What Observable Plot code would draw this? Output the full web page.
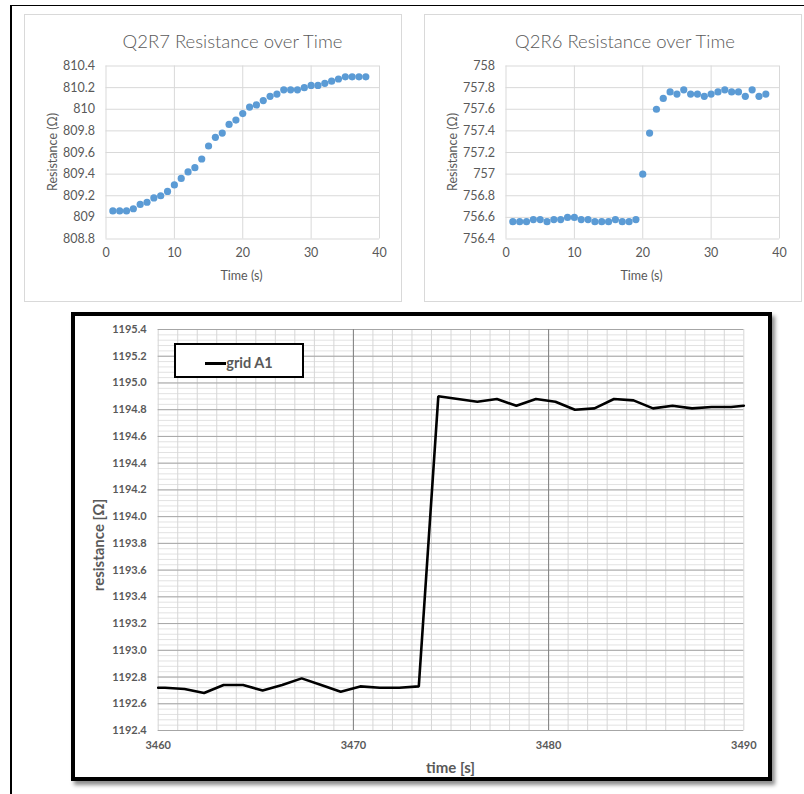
<!DOCTYPE html>
<html><head><meta charset="utf-8">
<script src="https://cdn.jsdelivr.net/npm/d3@7"></script>
<script src="https://cdn.jsdelivr.net/npm/@observablehq/plot@0.6"></script>
<style>
body{margin:0;background:#fff;}
#page{position:relative;width:804px;height:794px;overflow:hidden;background:#fff;font-family:Lato,"Open Sans",sans-serif;}
.abs{position:absolute;}
.lbl{position:absolute;white-space:nowrap;line-height:1;}
</style></head><body><div id="page"></div>
<script>
// ---------- data ----------
const timeS = [1,2,3,4,5,6,7,8,9,10,11,12,13,14,15,16,17,18,19,20,21,22,23,24,25,26,27,28,29,30,31,32,33,34,35,36,37,38];
const q2r7 = [809.06,809.06,809.06,809.08,809.12,809.14,809.18,809.2,809.24,809.3,
              809.36,809.42,809.46,809.54,809.66,809.74,809.78,809.86,809.9,809.96,
              810.02,810.04,810.08,810.12,810.14,810.18,810.18,810.18,810.2,810.22,
              810.22,810.24,810.26,810.28,810.3,810.3,810.3,810.3];
const q2r6 = [756.56,756.56,756.56,756.58,756.58,756.56,756.58,756.58,756.6,756.6,
              756.58,756.58,756.56,756.56,756.56,756.58,756.56,756.56,756.58,757.0,
              757.38,757.6,757.7,757.76,757.74,757.78,757.74,757.74,757.72,757.74,
              757.76,757.78,757.76,757.76,757.72,757.78,757.72,757.74];
const topXTicks = [0,10,20,30,40];
const q2r7YTicks = [808.8,809,809.2,809.4,809.6,809.8,810,810.2,810.4];
const q2r6YTicks = [756.4,756.6,756.8,757,757.2,757.4,757.6,757.8,758];

const gridTime = [3460,3460.35,3461.35,3462.35,3463.35,3464.35,3465.35,3466.35,3467.35,3468.35,3469.35,
                  3470.35,3471.35,3472.35,3473.35,3474.35,3475.35,3476.35,3477.35,3478.35,3479.35,
                  3480.35,3481.35,3482.35,3483.35,3484.35,3485.35,3486.35,3487.35,3488.35,3489.35,3490];
const gridA1 = [1192.72,1192.72,1192.71,1192.68,1192.74,1192.74,1192.70,1192.74,1192.79,1192.74,1192.69,
                1192.73,1192.72,1192.72,1192.73,1194.90,1194.88,1194.86,1194.88,1194.83,1194.88,
                1194.86,1194.80,1194.81,1194.88,1194.87,1194.81,1194.83,1194.81,1194.82,1194.82,1194.83];
const bottomXTicks = [3460,3470,3480,3490];
const bottomXMajorGrid = [3470,3480];
const bottomYTicks = [1192.4,1192.6,1192.8,1193.0,1193.2,1193.4,1193.6,1193.8,1194.0,1194.2,1194.4,1194.6,1194.8,1195.0,1195.2,1195.4];
const bottomXMinor = d3.range(3460, 3490.01, 1);
const bottomYMinor = d3.range(0, 76).map(i => 1192.4 + i * 0.04);

// ---------- page helpers ----------
const page = document.getElementById("page");
function box(css){ const d=document.createElement("div"); d.className="abs"; Object.assign(d.style,css); page.appendChild(d); return d; }
function label(txt, cx, cy, css, rot){
  const d=document.createElement("div"); d.className="lbl"; d.textContent=txt;
  Object.assign(d.style,{left:cx+"px",top:cy+"px",transform:"translate(-50%,-50%)"+(rot?" rotate("+rot+"deg)":"")},css);
  page.appendChild(d); return d;
}
function place(el, left, top){ el.style.position="absolute"; el.style.left=left+"px"; el.style.top=top+"px"; page.appendChild(el); }

// outer screenshot frame lines
box({left:"9.5px",top:"4.5px",width:"2px",height:"790px",background:"#000"});
box({left:"9.5px",top:"4.5px",width:"795px",height:"1.6px",background:"#000"});

// top panels
box({left:"24px",top:"13.5px",width:"378px",height:"288px",border:"1px solid #d9d9d9",boxSizing:"border-box"});
box({left:"423.5px",top:"13.5px",width:"378px",height:"288px",border:"1px solid #d9d9d9",boxSizing:"border-box"});

function excelScatter(vals, yDomain, yTicks){
  const data = timeS.map((t,i)=>({t, v: vals[i]}));
  return Plot.plot({
    width: 378, height: 288,
    marginLeft: 81.5, marginRight: 23, marginTop: 51.5, marginBottom: 63.5,
    style: {fontFamily: "Lato, sans-serif", fontSize: "12.5px", color: "#595959", background: "transparent", overflow: "visible"},
    x: {domain: [0,40], ticks: topXTicks, tickSize: 0, tickPadding: 9, label: null},
    y: {domain: yDomain, ticks: yTicks, tickSize: 0, tickPadding: 11, label: null, tickFormat: d => String(+d.toFixed(1))},
    marks: [
      Plot.ruleY(yTicks, {stroke: "#d9d9d9", strokeWidth: 1}),
      Plot.ruleX(topXTicks, {stroke: "#d9d9d9", strokeWidth: 1}),
      Plot.dot(data, {x: "t", y: "v", r: 3.6, fill: "#5b9bd5", stroke: "none"})
    ]
  });
}
place(excelScatter(q2r7, [808.8, 810.4], q2r7YTicks), 24, 14);
place(excelScatter(q2r6, [756.4, 758], q2r6YTicks), 423.5, 14);

const titleCss = {fontSize: "18.5px", color: "#595959", fontFamily: "Lato, sans-serif", fontWeight: "300"};
const axCss = {fontSize: "12.5px", color: "#595959", fontFamily: "Lato, sans-serif"};
label("Q2R7 Resistance over Time", 232.5, 41, titleCss);
label("Q2R6 Resistance over Time", 625, 41, titleCss);
label("Time (s)", 241.5, 276, axCss);
label("Time (s)", 641.5, 276, axCss);
label("Resistance (Ω)", 52.5, 151.5, axCss, -90);
label("Resistance (Ω)", 452.5, 151.5, axCss, -90);

// bottom framed chart
box({left:"71px",top:"311.5px",width:"701px",height:"469.5px",border:"4.5px solid #000",boxSizing:"border-box",boxShadow:"3px 4px 4px rgba(0,0,0,0.45)",background:"#fff"});

const gridData = gridTime.map((t,i)=>({t, v: gridA1[i]}));
const bottom = Plot.plot({
  width: 692, height: 461,
  marginLeft: 82.7, marginRight: 23.7, marginTop: 13, marginBottom: 47,
  style: {fontFamily: "Lato, sans-serif", fontSize: "11px", fontWeight: "bold", color: "#595959", background: "transparent", overflow: "visible"},
  x: {domain: [3460, 3490], ticks: bottomXTicks, tickSize: 0, tickPadding: 11, label: null, tickFormat: d => String(d)},
  y: {domain: [1192.4, 1195.4], ticks: bottomYTicks, tickSize: 0, tickPadding: 11.5, label: null, tickFormat: d => d.toFixed(1)},
  marks: [
    Plot.ruleY(bottomYMinor, {stroke: "#e2e2e2", strokeWidth: 1}),
    Plot.ruleX(bottomXMinor, {stroke: "#d6d6d6", strokeWidth: 1}),
    Plot.ruleY(bottomYTicks, {stroke: "#a6a6a6", strokeWidth: 1}),
    Plot.ruleX(bottomXMajorGrid, {stroke: "#808080", strokeWidth: 1}),
    Plot.line(gridData, {x: "t", y: "v", stroke: "#000", strokeWidth: 2.6, strokeLinejoin: "miter"})
  ]
});
place(bottom, 75, 316);

const boldCss = {fontSize: "15px", fontWeight: "bold", color: "#595959", fontFamily: "Lato, sans-serif"};
label("time [s]", 450.5, 767, boldCss);
label("resistance [Ω]", 97.5, 545, boldCss, -90);

// legend
box({left:"173.5px",top:"343px",width:"130px",height:"34.5px",border:"2px solid #000",boxSizing:"border-box",background:"#fff"});
box({left:"205px",top:"361.5px",width:"21px",height:"3px",background:"#000"});
label("grid A1", 249.5, 363, {fontSize: "14.5px", fontWeight: "bold", color: "#595959", fontFamily: "Lato, sans-serif"});
</script></body></html>
